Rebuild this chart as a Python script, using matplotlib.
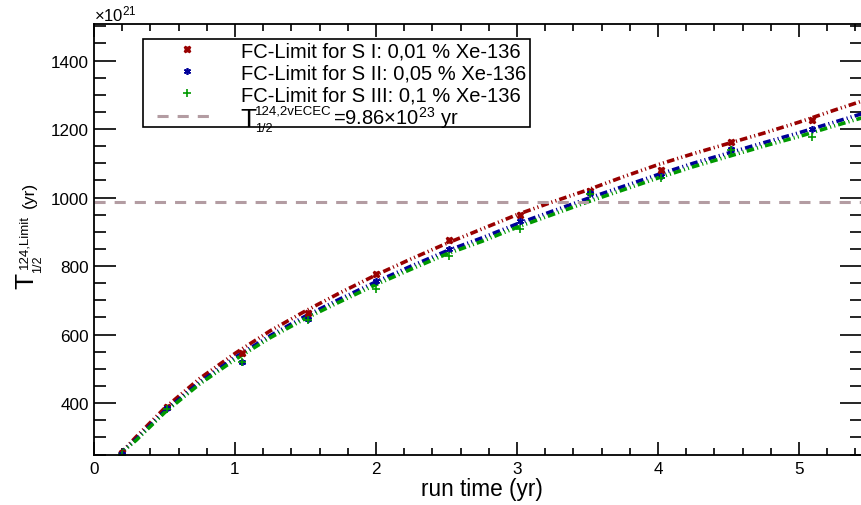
import matplotlib
matplotlib.use("Agg")
import matplotlib.pyplot as plt
from matplotlib.patches import Rectangle
from matplotlib.ticker import MultipleLocator

plt.rcParams['font.family'] = ['Liberation Sans', 'DejaVu Sans']
plt.rcParams['mathtext.fontset'] = 'custom'
plt.rcParams['mathtext.rm'] = 'Liberation Sans'
plt.rcParams['lines.scale_dashes'] = False

# data points (in units of 1e21 yr)
run_time = [0.2, 0.52, 1.05, 1.52, 2.0, 2.52, 3.02, 3.52, 4.02, 4.52, 5.09]
lim_s1 = [255, 390, 545, 664, 778, 875, 950, 1020, 1081, 1163, 1225]
lim_s2 = [252, 386, 521, 645, 755, 851, 931, 1012, 1062, 1141, 1200]
lim_s3 = [250, 383, 521, 644, 732, 829, 908, 1011, 1058, 1139, 1178]

# fitted curves
fit_t = [0.18, 0.3, 0.5, 0.75, 1.0, 1.25, 1.5, 1.75, 2.0, 2.25, 2.5, 2.75,
         3.0, 3.25, 3.5, 3.75, 4.0, 4.25, 4.5, 4.75, 5.0, 5.25, 5.45]
fit_s1 = [250, 302, 385, 472, 545, 611, 669, 723, 774, 821, 866, 908,
          950, 987, 1022, 1060, 1096, 1128, 1158, 1188, 1220, 1255, 1282]
fit_s2 = [251, 295, 376, 461, 533, 597, 654, 705, 754, 800, 844, 882,
          923, 960, 997, 1032, 1067, 1100, 1130, 1160, 1189, 1220, 1245]
fit_s3 = [250, 292, 372, 456, 527, 591, 647, 697, 746, 791, 835, 872,
          913, 950, 987, 1022, 1057, 1090, 1120, 1150, 1178, 1209, 1233]

t_half = 986

labels = ['FC-Limit for S I: 0,01 % Xe-136',
          'FC-Limit for S II: 0,05 % Xe-136',
          'FC-Limit for S III: 0,1 % Xe-136']
colors = ['#990000', '#000099', '#009900']

W, H = 862, 506
fig = plt.figure(figsize=(W / 100, H / 100), dpi=100)
ax = fig.add_axes([94 / W, 50.5 / H, 768 / W, 431 / H])


def px(x, y):
    # image pixel (from top-left) -> figure fraction
    return x / W, 1 - y / H


dash = (0, (5.5, 2.2, 0.8, 2.2, 0.8, 2.2))
for fit, c in zip([fit_s1, fit_s2, fit_s3], colors):
    ax.plot(fit_t, fit, color=c, lw=2.6, linestyle=dash)

ax.plot(run_time, lim_s1, ls='none', marker='X', ms=4.5, color=colors[0],
        mec=colors[0], label=labels[0])
ax.plot(run_time, lim_s2, ls='none', marker=(6, 2, 0), ms=5, mew=1.2,
        color=colors[1], label=labels[1])
ax.plot(run_time, lim_s3, ls='none', marker='+', ms=6, mew=1.2,
        color=colors[2], label=labels[2])
ax.axhline(t_half, color='#b39ca2', lw=2.2, dashes=(8, 6.5), label=' ')

ax.set_xlim(0, 5.447)
ax.set_ylim(250, 1508)
ax.xaxis.set_major_locator(MultipleLocator(1))
ax.xaxis.set_minor_locator(MultipleLocator(0.2))
ax.yaxis.set_major_locator(MultipleLocator(200))
ax.yaxis.set_minor_locator(MultipleLocator(50))
ax.tick_params(which='both', direction='in', top=True, right=True,
               labelsize=12.3, width=1.2)
ax.tick_params(axis='x', which='major', length=9.5, pad=4.5)
ax.tick_params(axis='x', which='minor', length=5)
ax.tick_params(axis='y', which='major', length=16, pad=3.8)
ax.tick_params(axis='y', which='minor', length=8.5)
for s in ax.spines.values():
    s.set_linewidth(1.3)

ax.set_xlabel('run time (yr)', fontsize=16.3)
ax.xaxis.set_label_coords((482 - 94) / 768, (456 - 497) / 431)
ax.xaxis.label.set_va('baseline')

# y axis title, built ROOT-style with a large T
ytxt = dict(rotation=90, rotation_mode='anchor', ha='left', va='baseline')
fig.text(*px(33, 289), 'T', fontsize=19, **ytxt)
fig.text(*px(41, 273), '1/2', fontsize=9, **ytxt)
fig.text(*px(27, 269), '124,Limit', fontsize=9.5, **ytxt)
fig.text(*px(34, 208), '(yr)', fontsize=12.5, **ytxt)

fig.text(*px(94, 21), r'$\mathregular{\times10^{21}}$', fontsize=12,
         va='baseline', ha='left')

# legend
fig.patches.append(Rectangle(px(143, 128), 387 / W, 88 / H, transform=fig.transFigure,
                             fill=False, edgecolor='black', lw=1.2))
leg = ax.legend(loc='upper left', bbox_to_anchor=px(157, 42),
                bbox_transform=fig.transFigure, borderaxespad=0, borderpad=0,
                fontsize=14.5, frameon=False, handlelength=3.0,
                handletextpad=1.15, labelspacing=0.16)

ltxt = dict(ha='left', va='baseline')
fig.text(*px(240, 127), 'T', fontsize=19, **ltxt)
fig.text(*px(255, 115), '124,2vECEC', fontsize=9.5, **ltxt)
fig.text(*px(255, 132), '1/2', fontsize=9, **ltxt)
fig.text(*px(333, 125), r'=9.86$\mathregular{\times10^{23}}$ yr', fontsize=14.5, **ltxt)

fig.savefig('out.png', dpi=100)
